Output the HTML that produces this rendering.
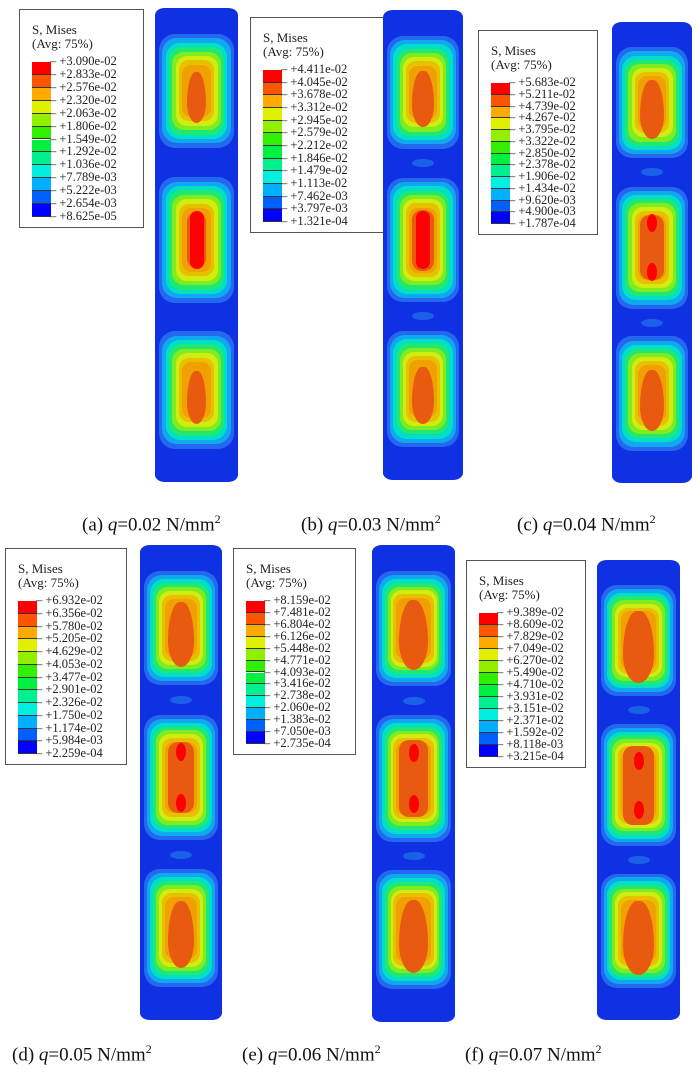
<!DOCTYPE html>
<html><head><meta charset="utf-8">
<style>
body{margin:0;background:#fff;width:700px;height:1078px;position:relative;overflow:hidden;font-family:"Liberation Serif",serif}
.abs{position:absolute}
.legend{position:absolute;border:1.2px solid #555;background:#fff;box-sizing:border-box}
.lt{position:absolute;left:12px;font-size:13px;line-height:14px;color:#222}
.sw{position:absolute;box-sizing:border-box;border-bottom:1px solid #333}
.lab{position:absolute;font-size:12.5px;color:#222;white-space:nowrap}
.col{position:absolute;background:#1030e4;border-radius:10px/7px;overflow:hidden}
.cap{position:absolute;font-size:19px;color:#111;white-space:nowrap}
</style></head><body>
<div id="root"></div>
<script>
const colors=["#ff0000","#ff5400","#ffaa00","#e0f000","#90f000","#30f000","#00f040","#00f090","#00f0e0","#00b0ff","#0060ff","#0000ff"];
const valsA=["+3.090e-02","+2.833e-02","+2.576e-02","+2.320e-02","+2.063e-02","+1.806e-02","+1.549e-02","+1.292e-02","+1.036e-02","+7.789e-03","+5.222e-03","+2.654e-03","+8.625e-05"];
const valsB=["+4.411e-02","+4.045e-02","+3.678e-02","+3.312e-02","+2.945e-02","+2.579e-02","+2.212e-02","+1.846e-02","+1.479e-02","+1.113e-02","+7.462e-03","+3.797e-03","+1.321e-04"];
const valsC=["+5.683e-02","+5.211e-02","+4.739e-02","+4.267e-02","+3.795e-02","+3.322e-02","+2.850e-02","+2.378e-02","+1.906e-02","+1.434e-02","+9.620e-03","+4.900e-03","+1.787e-04"];
const valsD=["+6.932e-02","+6.356e-02","+5.780e-02","+5.205e-02","+4.629e-02","+4.053e-02","+3.477e-02","+2.901e-02","+2.326e-02","+1.750e-02","+1.174e-02","+5.984e-03","+2.259e-04"];
const valsE=["+8.159e-02","+7.481e-02","+6.804e-02","+6.126e-02","+5.448e-02","+4.771e-02","+4.093e-02","+3.416e-02","+2.738e-02","+2.060e-02","+1.383e-02","+7.050e-03","+2.735e-04"];
const valsF=["+9.389e-02","+8.609e-02","+7.829e-02","+7.049e-02","+6.270e-02","+5.490e-02","+4.710e-02","+3.931e-02","+3.151e-02","+2.371e-02","+1.592e-02","+8.118e-03","+3.215e-04"];
const loads=["0.02","0.03","0.04","0.05","0.06","0.07"];
const letters=["a","b","c","d","e","f"];
const panels=[
 {v:valsA,L:[19,9,125,219],C:[155,8,83,474],cap:[82,512],lvl:0,hole:false},
 {v:valsB,L:[250,17,137,216],C:[383,10,80,470],cap:[301,512],lvl:1,hole:true},
 {v:valsC,L:[478,30,120,205],C:[612,22,80,461],cap:[517,512],lvl:2,hole:true},
 {v:valsD,L:[5,548,122,217],C:[140,545,82,475],cap:[12,1042],lvl:3,hole:true},
 {v:valsE,L:[233,548,123,207],C:[372,545,83,477],cap:[242,1042],lvl:4,hole:true},
 {v:valsF,L:[466,560,120,208],C:[597,560,83,460],cap:[465,1042],lvl:5,hole:true}
];
const blobColors=["#2468f0","#10a8f0","#00e0c8","#20e870","#80ec20","#d0ec10","#e8c000","#f0a000"];
const root=document.getElementById('root');
function mk(cls,parent){const d=document.createElement('div');d.className=cls;parent.appendChild(d);return d;}
panels.forEach((p,pi)=>{
 const lg=mk('legend',root);
 
 
 Object.assign(lg.style,{left:p.L[0]+'px',top:p.L[1]+'px',width:p.L[2]+'px',height:p.L[3]+'px'});
 const t=mk('lt',lg);t.style.top='13px';t.innerHTML='S, Mises<br>(Avg: 75%)';
 
 
 const barTop=52, step=(p.L[3]-barTop-12)/12;
 for(let i=0;i<12;i++){
  const s=mk('sw',lg);
  
  
  Object.assign(s.style,{left:'12px',top:(barTop+i*step)+'px',width:'19px',height:step+'px',background:colors[i]});
 }
 p.v.forEach((v,i)=>{
  const l=mk('lab',lg);
  
  
  l.textContent='\u2013 '+v;
  Object.assign(l.style,{left:'30px',top:(barTop+i*step-8)+'px'});
 });
 const c=mk('col',root);
 
 
 Object.assign(c.style,{left:p.C[0]+'px',top:p.C[1]+'px',width:p.C[2]+'px',height:p.C[3]+'px'});
 const W=p.C[2],H=p.C[3];
 const segs=[[0.055,0.295],[0.357,0.622],[0.682,0.93]];
 segs.forEach((sg,si)=>{
  const bx=4,bw=W-8,by=sg[0]*H,bh=(sg[1]-sg[0])*H;
  const grow=p.lvl*0.4;
  blobColors.forEach((col,k)=>{
   const ix=k*(3.3-grow*0.25), iy=k*(4.4-grow*0.35);
   const d=mk('abs',c);
   
   
   Object.assign(d.style,{left:(bx+ix)+'px',top:(by+iy)+'px',width:(bw-2*ix)+'px',height:(bh-2*iy)+'px',background:col,borderRadius:Math.max(6,16-k)+'px'});
  });
  const cw=19+p.lvl*2.5, ch=bh*(0.45+p.lvl*0.04);
  const core=mk('abs',c);
  
  
  Object.assign(core.style,{left:(W/2-cw/2)+'px',top:(by+bh/2-ch/2+(si==1?0:bh*0.06))+'px',width:cw+'px',height:ch+'px',background:'#e85a10',borderRadius:si==1?'10px':'45% 45% 50% 50%/60% 60% 40% 40%'});
  if(si==1){
   if(p.lvl<2){
    const r=mk('abs',c);
    
    
    Object.assign(r.style,{left:(W/2-7)+'px',top:(by+bh*0.27)+'px',width:'14px',height:(bh*0.46)+'px',background:'#ff0000',borderRadius:'7px'});
   } else {
    [0.3,0.7].forEach(f=>{
     const r=mk('abs',c);
     
     
     Object.assign(r.style,{left:(W/2-5)+'px',top:(by+bh*f-9)+'px',width:'10px',height:'18px',background:'#ff0000',borderRadius:'50%'});
    });
   }
  }
  if(p.hole && si<2){
   const h=mk('abs',c);
   
   
   const hy=(sg[1]+segs[si+1][0])/2*H;
   Object.assign(h.style,{left:(W/2-11)+'px',top:(hy-4)+'px',width:'22px',height:'8px',background:'#1a60e8',borderRadius:'50%'});
  }
 });
 const cp=mk('cap',root);
 
 
 Object.assign(cp.style,{left:p.cap[0]+'px',top:p.cap[1]+'px'});
 cp.innerHTML='('+letters[pi]+') <i>q</i>='+loads[pi]+' N/mm<sup style="font-size:12px">2</sup>';
});
</script>
</body></html>
